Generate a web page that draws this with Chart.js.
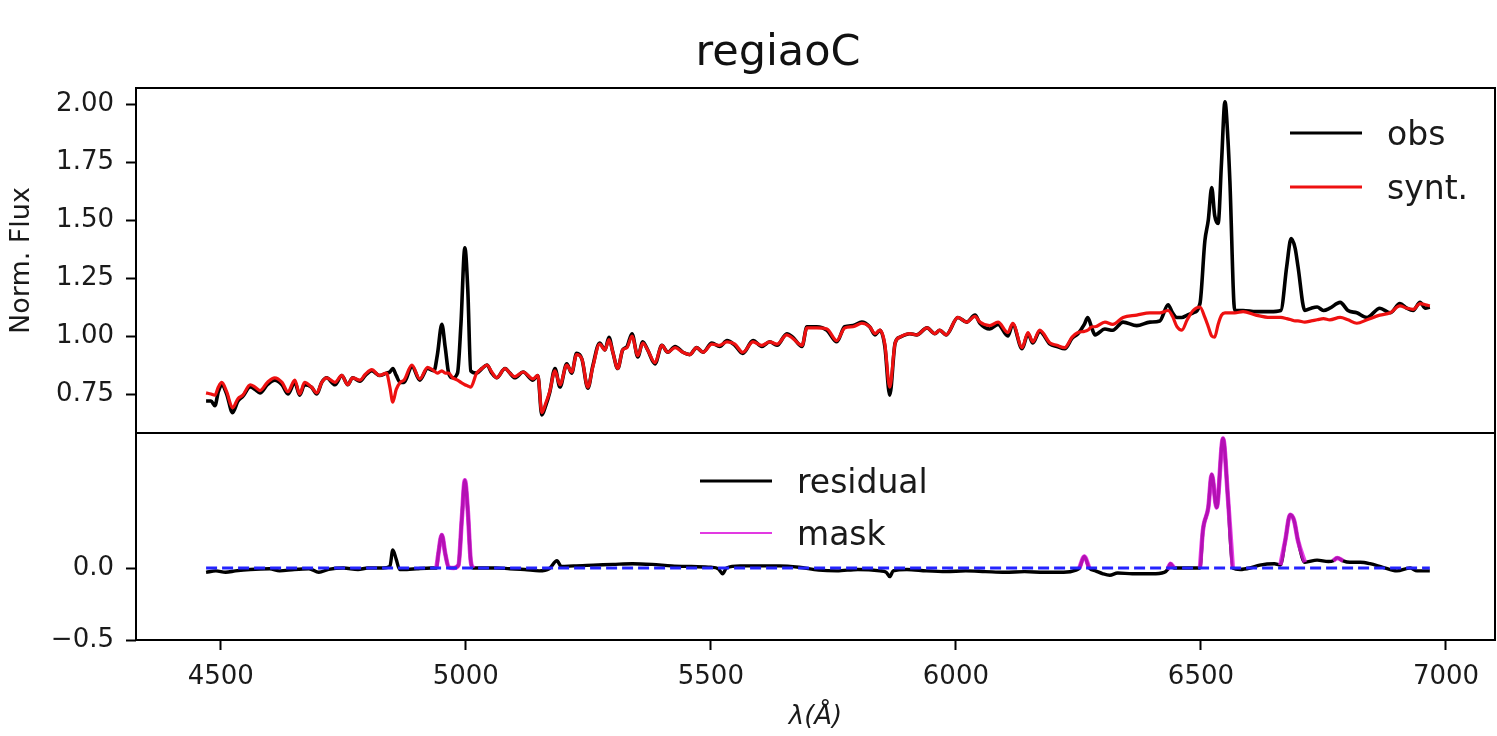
<!DOCTYPE html>
<html>
<head>
<meta charset="utf-8">
<title>regiaoC</title>
<script src="https://cdn.jsdelivr.net/npm/chart.js@4.4.1/dist/chart.umd.min.js"></script>
<style>
  html, body { margin: 0; padding: 0; background: #fff; }
  #wrap { position: relative; width: 1497px; height: 736px; }
</style>
</head>
<body>
<div id="wrap"><canvas id="grafico"></canvas></div>
<script>
// --- DADOS ---
// painel de cima: comprimento de onda (A), fluxo observado e sintetico
const lambdaTop = [
  4470,4480,4488,4495,4502,4512,4524,4535,4545,4560,
  4570,4580,4595,4610,4625,4637,4651,4661,4671,4685,
  4696,4706,4716,4733,4747,4759,4769,4784,4795,4808,
  4824,4838,4845,4851,4858,4866,4874,4890,4906,4922,
  4935,4942,4951,4958,4965,4973,4983,4990,4998,5004,
  5010,5022,5033,5043,5053,5063,5080,5090,5100,5117,
  5137,5147,5155,5163,5171,5182,5192,5206,5216,5226,
  5237,5249,5259,5273,5284,5292,5300,5310,5320,5329,
  5339,5351,5361,5371,5386,5400,5412,5427,5443,5457,
  5471,5484,5502,5518,5533,5549,5565,5586,5604,5620,
  5635,5655,5667,5686,5696,5716,5737,5757,5773,5790,
  5808,5824,5835,5845,5855,5865,5876,5886,5906,5920,
  5941,5957,5967,5980,6004,6022,6039,6049,6069,6086,
  6106,6116,6135,6147,6157,6171,6192,6206,6222,6237,
  6249,6262,6269,6278,6284,6304,6320,6341,6369,6396,
  6416,6433,6442,6451,6461,6472,6484,6498,6508,6515,
  6522,6528,6535,6542,6549,6555,6559,6569,6586,6612,
  6641,6663,6675,6684,6692,6698,6712,6725,6737,6750,
  6763,6784,6800,6818,6839,6865,6886,6906,6920,6933,
  6947,6958,6967
];
const obs = [
  0.72,0.72,0.70,0.76,0.79,0.75,0.67,0.72,0.74,0.78,
  0.77,0.755,0.79,0.81,0.79,0.75,0.80,0.745,0.79,0.78,
  0.75,0.80,0.82,0.79,0.83,0.79,0.82,0.805,0.83,0.85,
  0.83,0.84,0.845,0.86,0.83,0.80,0.80,0.87,0.81,0.86,
  0.85,0.92,1.05,0.95,0.84,0.82,0.84,1.05,1.38,1.20,
  0.85,0.84,0.86,0.875,0.84,0.82,0.86,0.84,0.82,0.845,
  0.81,0.83,0.66,0.70,0.755,0.86,0.78,0.88,0.84,0.925,
  0.90,0.775,0.87,0.97,0.94,0.995,0.93,0.86,0.94,0.955,
  1.01,0.91,0.975,0.94,0.88,0.96,0.93,0.955,0.93,0.92,
  0.95,0.93,0.97,0.955,0.98,0.96,0.925,0.98,0.955,0.975,
  0.96,1.01,0.995,0.955,1.04,1.04,1.025,0.975,1.04,1.045,
  1.06,1.04,1.005,1.025,0.955,0.745,0.97,0.995,1.01,1.005,
  1.035,1.01,1.025,1.005,1.08,1.06,1.09,1.055,1.03,1.05,
  1.00,1.05,0.945,1.01,0.97,1.02,0.965,0.955,0.945,0.99,
  1.01,1.05,1.08,1.03,1.005,1.03,1.025,1.06,1.045,1.06,
  1.065,1.135,1.10,1.08,1.08,1.09,1.10,1.14,1.41,1.50,
  1.64,1.52,1.485,1.75,2.01,1.85,1.67,1.11,1.11,1.105,
  1.105,1.11,1.30,1.42,1.38,1.30,1.11,1.12,1.125,1.11,
  1.12,1.145,1.11,1.10,1.08,1.12,1.10,1.14,1.12,1.11,
  1.145,1.12,1.125
];
const synt = [
  0.755,0.75,0.745,0.78,0.80,0.76,0.69,0.73,0.745,0.79,
  0.78,0.765,0.80,0.82,0.80,0.76,0.81,0.75,0.80,0.78,
  0.755,0.80,0.82,0.80,0.83,0.79,0.82,0.81,0.835,0.855,
  0.83,0.84,0.78,0.715,0.77,0.80,0.81,0.875,0.815,0.865,
  0.85,0.84,0.85,0.84,0.84,0.82,0.81,0.80,0.79,0.785,
  0.78,0.84,0.86,0.875,0.845,0.82,0.86,0.84,0.825,0.845,
  0.815,0.83,0.67,0.71,0.76,0.85,0.79,0.875,0.845,0.92,
  0.90,0.78,0.865,0.965,0.94,0.985,0.93,0.86,0.94,0.95,
  1.00,0.915,0.97,0.94,0.885,0.96,0.93,0.95,0.93,0.92,
  0.95,0.93,0.965,0.96,0.975,0.965,0.93,0.975,0.96,0.975,
  0.965,1.005,0.99,0.96,1.035,1.035,1.03,0.98,1.035,1.04,
  1.055,1.04,1.01,1.025,0.965,0.78,0.97,0.995,1.01,1.005,
  1.035,1.01,1.025,1.005,1.08,1.06,1.085,1.06,1.045,1.06,
  1.015,1.055,0.95,1.015,0.975,1.025,0.97,0.96,0.95,0.995,
  1.015,1.02,1.025,1.04,1.04,1.06,1.05,1.08,1.09,1.10,
  1.10,1.11,1.085,1.04,1.025,1.07,1.11,1.125,1.08,1.04,
  1.00,0.995,1.05,1.09,1.10,1.10,1.10,1.10,1.105,1.09,
  1.08,1.08,1.075,1.07,1.065,1.065,1.06,1.065,1.07,1.075,
  1.07,1.08,1.07,1.055,1.07,1.09,1.10,1.13,1.12,1.115,
  1.14,1.135,1.13
];

// painel de baixo: residuo e mascara (null = fora da mascara)
const lambdaRes = [
  4470,4490,4510,4530,4560,4600,4620,4650,4680,4700,
  4720,4750,4780,4800,4830,4845,4851,4858,4865,4880,
  4900,4930,4940,4944,4951,4958,4965,4975,4985,4992,
  4998,5004,5010,5015,5030,5060,5090,5120,5150,5170,
  5186,5195,5220,5260,5300,5340,5380,5420,5460,5500,
  5515,5524,5532,5560,5600,5640,5680,5720,5757,5800,
  5845,5858,5865,5872,5900,5940,5980,6020,6060,6100,
  6140,6180,6220,6245,6252,6262,6272,6285,6300,6314,
  6330,6360,6400,6425,6432,6438,6445,6455,6470,6490,
  6498,6504,6515,6522,6532,6545,6555,6565,6580,6600,
  6620,6650,6662,6672,6682,6690,6698,6712,6737,6760,
  6770,6778,6790,6804,6825,6845,6871,6900,6927,6941,
  6967
];
const residual = [
  -0.03,-0.02,-0.03,-0.02,-0.01,-0.005,-0.02,-0.01,-0.005,-0.03,
  -0.01,0.0,-0.01,0.0,0.0,0.01,0.125,0.06,-0.01,-0.01,
  -0.005,0.0,0.0,0.10,0.23,0.10,0.005,0.0,0.02,0.35,
  0.61,0.40,0.05,0.0,0.0,0.0,-0.005,-0.01,-0.02,-0.005,
  0.05,0.01,0.015,0.02,0.025,0.03,0.025,0.015,0.01,0.005,
  -0.005,-0.04,0.0,0.015,0.015,0.015,0.005,-0.015,-0.02,-0.01,
  -0.02,-0.03,-0.06,-0.02,-0.01,-0.02,-0.025,-0.02,-0.025,-0.03,
  -0.025,-0.03,-0.03,-0.015,0.0,0.08,0.0,-0.02,-0.04,-0.05,
  -0.035,-0.04,-0.04,-0.03,-0.01,0.03,0.0,0.0,0.0,0.0,
  0.0,0.26,0.42,0.65,0.42,0.90,0.49,0.0,-0.01,0.0,
  0.02,0.03,0.02,0.19,0.37,0.33,0.19,0.04,0.055,0.045,
  0.05,0.07,0.05,0.04,0.04,0.03,0.005,-0.02,0.0,-0.02,
  -0.02
];
const mask = [
  null,null,null,null,null,null,null,null,null,null,
  null,null,null,null,null,null,null,null,null,null,
  null,null,0.0,0.10,0.23,0.10,0.005,0.0,0.02,0.35,
  0.61,0.40,0.05,0.0,null,null,null,null,null,null,
  null,null,null,null,null,null,null,null,null,null,
  null,null,null,null,null,null,null,null,null,null,
  null,null,null,null,null,null,null,null,null,null,
  null,null,null,null,0.0,0.08,0.0,null,null,null,
  null,null,null,null,-0.01,0.03,0.0,null,null,null,
  0.0,0.26,0.42,0.65,0.42,0.90,0.49,0.0,null,null,
  null,null,0.02,0.19,0.37,0.33,0.19,0.04,null,null,
  0.05,0.07,0.05,null,null,null,null,null,null,null,
  null
];

// marcas dos eixos
const xTicks = [4500, 5000, 5500, 6000, 6500, 7000];
const yTicksTop = [0.75, 1.00, 1.25, 1.50, 1.75, 2.00];
const yTicksRes = [-0.5, 0.0];

// --- GRAFICO ---
Chart.defaults.font.family = 'DejaVu Sans';
const corTexto = '#1a1a1a';
const fonteTick = { family: 'DejaVu Sans', size: 26 };

const pontos = (xs, ys) => xs.map((x, i) => ({ x: x, y: ys[i] }));

function itemLegenda(c, x, y, cor, largura, texto) {
    c.strokeStyle = cor;
    c.lineWidth = largura;
    c.lineCap = 'butt';
    c.beginPath();
    c.moveTo(x, y);
    c.lineTo(x + 72, y);
    c.stroke();
    c.fillStyle = corTexto;
    c.font = '33px "DejaVu Sans"';
    c.textAlign = 'left';
    c.textBaseline = 'alphabetic';
    c.fillText(texto, x + 97, y + 12);
}

// moldura dos dois paineis, titulo e legendas
const moldura = {
    id: 'moldura',
    afterDraw(chart) {
        const c = chart.ctx;
        const area = chart.chartArea;
        const yTop = chart.scales.yTop;
        const yRes = chart.scales.yRes;
        c.save();
        c.strokeStyle = '#000';
        c.lineWidth = 2;
        c.strokeRect(area.left, yTop.top, area.right - area.left, yTop.bottom - yTop.top);
        c.strokeRect(area.left, yRes.top, area.right - area.left, yRes.bottom - yRes.top);

        c.fillStyle = '#111';
        c.font = '43px "DejaVu Sans"';
        c.textAlign = 'center';
        c.textBaseline = 'alphabetic';
        c.fillText('regiaoC', 778, 65);

        itemLegenda(c, 1290, 133, '#000', 3, 'obs');
        itemLegenda(c, 1290, 187, '#ee1111', 3, 'synt.');
        itemLegenda(c, 700, 481, '#000', 3, 'residual');
        itemLegenda(c, 700, 533, '#e23ae2', 2, 'mask');
        c.restore();
    }
};

const ctx = document.getElementById('grafico').getContext('2d');

new Chart(ctx, {
    type: 'line',
    data: {
        datasets: [
            { label: 'synt.', data: pontos(lambdaTop, synt), yAxisID: 'yTop',
              borderColor: '#ee1111', borderWidth: 3.2, order: 1 },
            { label: 'obs', data: pontos(lambdaTop, obs), yAxisID: 'yTop',
              borderColor: '#000', borderWidth: 3.6, order: 2 },
            { label: 'zero', yAxisID: 'yRes',
              data: [{ x: lambdaRes[0], y: 0 }, { x: lambdaRes[lambdaRes.length - 1], y: 0 }],
              borderColor: '#2424ff', borderWidth: 3, borderDash: [11, 5], borderCapStyle: 'butt', order: 3 },
            { label: 'mask', data: pontos(lambdaRes, mask), yAxisID: 'yRes',
              borderColor: 'rgba(225,20,225,0.8)', borderWidth: 4.5, spanGaps: false, order: 4 },
            { label: 'residual', data: pontos(lambdaRes, residual), yAxisID: 'yRes',
              borderColor: '#000', borderWidth: 3.4, order: 5 }
        ]
    },
    options: {
        responsive: true,
        maintainAspectRatio: false,
        animation: false,
        layout: { padding: { top: 88, right: 2, bottom: 0, left: 0 } },
        elements: {
            point: { radius: 0 },
            line: { cubicInterpolationMode: 'monotone', borderJoinStyle: 'round', fill: false }
        },
        plugins: { legend: { display: false }, tooltip: { enabled: false }, title: { display: false } },
        scales: {
            x: {
                type: 'linear', position: 'bottom', min: 4327, max: 7100,
                afterBuildTicks: s => { s.ticks = xTicks.map(v => ({ value: v })); },
                afterFit: s => { s.height = 96; },
                grid: { drawOnChartArea: false, tickLength: 10, tickWidth: 2, tickColor: '#000' },
                border: { display: false },
                ticks: { color: corTexto, font: fonteTick, padding: 12, maxRotation: 0, callback: v => String(v) },
                title: { display: true, text: 'λ(Å)', color: corTexto,
                         font: { family: 'DejaVu Sans', size: 26, style: 'italic' }, padding: { top: 0, bottom: 3 } }
            },
            yTop: {
                type: 'linear', position: 'left', stack: 'paineis', stackWeight: 345, weight: 1,
                min: 0.582, max: 2.069,
                afterBuildTicks: s => { s.ticks = yTicksTop.map(v => ({ value: v })); },
                afterFit: s => { s.width = 136; },
                grid: { drawOnChartArea: false, tickLength: 10, tickWidth: 2, tickColor: '#000' },
                border: { display: false },
                ticks: { color: corTexto, font: fonteTick, padding: 12, callback: v => v.toFixed(2) },
                title: { display: true, text: 'Norm. Flux', color: corTexto,
                         font: { family: 'DejaVu Sans', size: 27 }, padding: { top: 6, bottom: 0 } }
            },
            yRes: {
                type: 'linear', position: 'left', stack: 'paineis', stackWeight: 207, weight: 0,
                min: -0.5, max: 0.9375,
                afterBuildTicks: s => { s.ticks = yTicksRes.map(v => ({ value: v })); },
                afterFit: s => { s.width = 136; },
                grid: { drawOnChartArea: false, tickLength: 10, tickWidth: 2, tickColor: '#000' },
                border: { display: false },
                ticks: { color: corTexto, font: fonteTick, padding: 12,
                         callback: v => (v < 0 ? '\u2212' : '') + Math.abs(v).toFixed(1) }
            }
        }
    },
    plugins: [moldura]
});
</script>
</body>
</html>
